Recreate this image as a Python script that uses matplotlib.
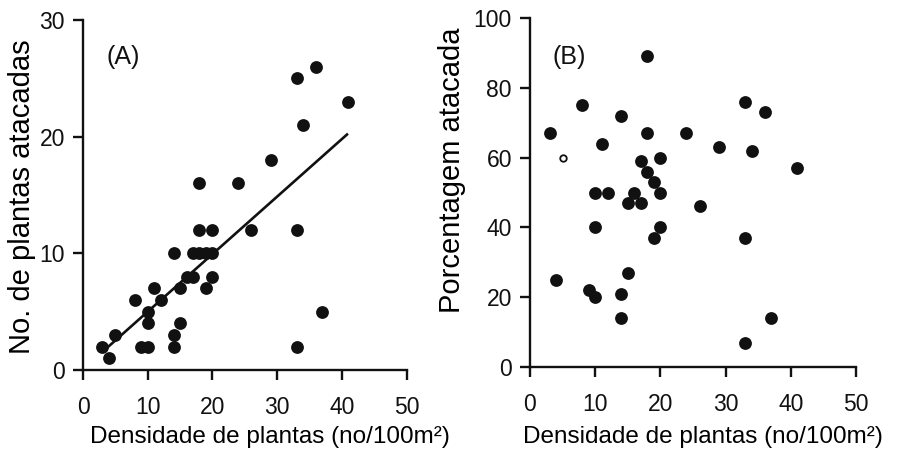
import matplotlib
matplotlib.use("Agg")
import matplotlib.pyplot as plt
import numpy as np

plt.rcParams['font.family'] = ['Liberation Sans', 'DejaVu Sans']

# Panel A data: density vs number of attacked plants
dens_a = [3, 4, 5, 8, 9, 10, 10, 10, 11, 12, 14, 14, 14, 15, 15, 16, 17, 18, 20,
          17, 18, 19, 20, 19, 20, 26, 18, 24, 29, 33, 36, 41, 34, 33, 37, 33]
attacked_a = [2, 1, 3, 6, 2, 2, 4, 5, 7, 6, 10, 3, 2, 4, 7, 8, 8, 12, 12,
              10, 10, 10, 10, 7, 8, 12, 16, 16, 18, 25, 26, 23, 21, 12, 5, 2]
fit_x_range = [3.7, 40.8]
fit_slope = 0.493
fit_intercept = 0.07

# Panel B data: density vs percentage attacked
dens_b = [3, 8, 11, 14, 18, 18, 24, 17, 20, 18, 19, 20, 10, 12, 16, 15, 17, 26,
          33, 36, 29, 34, 41, 10, 20, 19, 4, 9, 10, 15, 14, 14, 33, 37, 33]
pct_b = [67, 75, 64, 72, 89, 67, 67, 59, 60, 56, 53, 50, 50, 50, 50, 47, 47, 46,
         76, 73, 63, 62, 57, 40, 40, 37, 25, 22, 20, 27, 21, 14, 37, 14, 7]
open_dens_b = [5]
open_pct_b = [60]

xticks = [0, 10, 20, 30, 40, 50]
yticks_a = [0, 10, 20, 30]
yticks_b = [0, 20, 40, 60, 80, 100]
xlabel = "Densidade de plantas (no/100m²)"
ylabel_a = "No. de plantas atacadas"
ylabel_b = "Porcentagem atacada"

INK = '#111111'
TICK_FS = 16.5
XLAB_FS = 17.5
YLAB_FS = 21
PANEL_FS = 18

fig = plt.figure(figsize=(9.05, 4.61), dpi=100)
axA = fig.add_axes([83/905, 1-370/461, (406.5-83)/905, (370-20)/461])
axB = fig.add_axes([530/905, 1-367/461, (856-530)/905, (367-18)/461])

def style(ax):
    for s in ['top', 'right']:
        ax.spines[s].set_visible(False)
    for s in ['left', 'bottom']:
        ax.spines[s].set_linewidth(1.7)
        ax.spines[s].set_color(INK)
    ax.tick_params(direction='out', length=7, width=1.7, labelsize=TICK_FS,
                   colors=INK)
    ax.tick_params(axis='x', pad=12)
    ax.tick_params(axis='y', pad=6)

# Panel A
axA.scatter(dens_a, attacked_a, s=85, color=INK, zorder=3, linewidths=0)
fx = np.array(fit_x_range)
axA.plot(fx, fit_intercept + fit_slope * fx, color=INK, lw=1.9, zorder=2)
axA.set_xlim(0, 50)
axA.set_ylim(0, 30)
axA.set_xticks(xticks)
axA.set_yticks(yticks_a)
axA.set_xlabel(xlabel, fontsize=XLAB_FS, va='baseline')
axA.xaxis.set_label_coords((270-83)/323.5, (370-443)/350)
axA.set_ylabel(ylabel_a, fontsize=YLAB_FS, va='center')
axA.yaxis.set_label_coords((22-83)/323.5, (370-197)/350)
axA.text(0.074, 0.894, "(A)", transform=axA.transAxes, fontsize=PANEL_FS,
         ha='left', va='center', color=INK)
style(axA)

# Panel B
axB.scatter(dens_b, pct_b, s=85, color=INK, zorder=3, linewidths=0)
axB.scatter(open_dens_b, open_pct_b, s=22, facecolors='white',
            edgecolors=INK, linewidths=1.3, zorder=3)
axB.set_xlim(0, 50)
axB.set_ylim(0, 100)
axB.set_xticks(xticks)
axB.set_yticks(yticks_b)
axB.set_xlabel(xlabel, fontsize=XLAB_FS, va='baseline')
axB.xaxis.set_label_coords((703-530)/326, (367-443)/349)
axB.set_ylabel(ylabel_b, fontsize=YLAB_FS, va='center')
axB.yaxis.set_label_coords((452-530)/326, (367-170)/349)
axB.text(0.07, 0.888, "(B)", transform=axB.transAxes, fontsize=PANEL_FS,
         ha='left', va='center', color=INK)
style(axB)

fig.savefig("out.png", dpi=100)
